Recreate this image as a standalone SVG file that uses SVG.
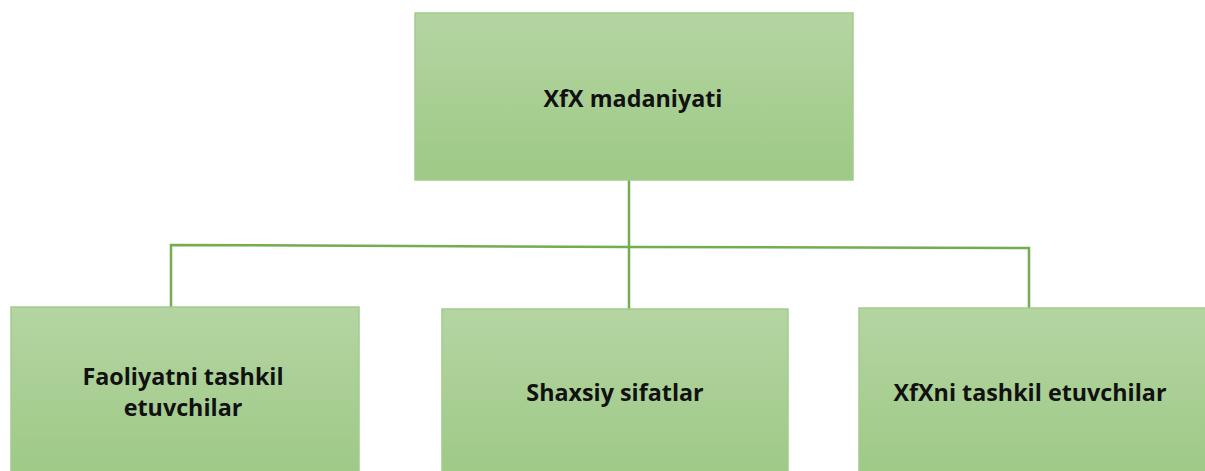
<svg xmlns="http://www.w3.org/2000/svg" width="1205" height="471" viewBox="0 0 1205 471">
<defs>
<linearGradient id="g" x1="0" y1="0" x2="0" y2="1">
<stop offset="0" stop-color="#b4d5a2"/>
<stop offset="1" stop-color="#9ec986"/>
</linearGradient>
</defs>
<style>
.box{fill:url(#g);stroke:#a3cc8c;stroke-width:1.5}
.lbl{font-family:"Open Sans",Lato,sans-serif;font-weight:bold;font-size:23.3px;fill:#111;text-anchor:middle}
.con{stroke:#72ae4d;stroke-width:2.5;fill:none}
</style>
<rect width="1205" height="471" fill="#fff"/>
<g id="connectors">
<path class="con" d="M629 180 V309"/>
<path class="con" d="M171 307 V245 L629 247 L1029 248 V309"/>
</g>
<g id="n0">
<rect class="box" x="415" y="13" width="438" height="167"/>
<text class="lbl" x="633" y="107">XfX madaniyati</text>
</g>
<g id="n1">
<rect class="box" x="11" y="307" width="348" height="170"/>
<text class="lbl" x="183" y="385">Faoliyatni tashkil</text>
<text class="lbl" x="183" y="416">etuvchilar</text>
</g>
<g id="n2">
<rect class="box" x="442" y="309" width="346" height="170"/>
<text class="lbl" x="615" y="401">Shaxsiy sifatlar</text>
</g>
<g id="n3">
<rect class="box" x="859" y="308" width="352" height="170"/>
<text class="lbl" x="1030" y="401">XfXni tashkil etuvchilar</text>
</g>
</svg>
